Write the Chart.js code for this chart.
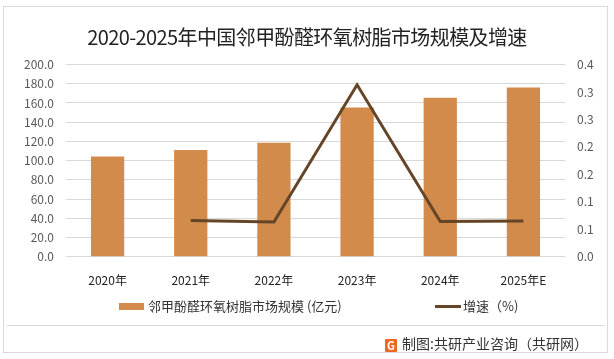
<!DOCTYPE html>
<html>
<head>
<meta charset="utf-8">
<script src="https://cdn.jsdelivr.net/npm/chart.js@4/dist/chart.umd.min.js"></script>
<style>
  html, body { margin:0; padding:0; background:#fff; }
  body { width:614px; height:359px; position:relative; overflow:hidden;
         font-family: "Microsoft YaHei", "Noto Sans CJK SC", sans-serif; }
  #wrap { position:absolute; left:0; top:0; width:614px; height:359px; }
  .frame { position:absolute; left:3px; top:6px; width:605px; height:347px; border:1px solid #d9d9d9; box-sizing:border-box; pointer-events:none; }
  .sep { position:absolute; left:7px; top:325px; width:598px; height:1px; background:#d9d9d9; }
  .title { position:absolute; left:0; width:614px; top:22px; text-align:center; font-size:20px; color:#222; white-space:nowrap; letter-spacing:-0.6px; }
  .leg { position:absolute; top:298px; font-size:13px; color:#333; white-space:nowrap; line-height:16px; }
  .sw { position:absolute; }
  .footer { position:absolute; left:385px; top:334px; font-size:14px; color:#333; white-space:nowrap; line-height:18px; }
  .logo { display:inline-block; width:12px; height:13px; background:#f26522; color:#fff; font-size:11px; font-weight:bold; line-height:13px; text-align:center; vertical-align:-1px; margin-right:5px; border-radius:1px; }
</style>
</head>
<body>
<div id="wrap"><canvas id="c" width="614" height="359"></canvas></div>
<div class="frame"></div>
<div class="sep"></div>
<div class="title">2020-2025年中国邻甲酚醛环氧树脂市场规模及增速</div>
<div class="sw" style="left:119px;top:303px;width:25px;height:7px;background:#D38B4C;"></div>
<div class="leg" style="left:148px;">邻甲酚醛环氧树脂市场规模 (亿元)</div>
<div class="sw" style="left:435px;top:305px;width:26px;height:3px;background:#654528;"></div>
<div class="leg" style="left:463px;">增速（%)</div>
<div class="footer"><span class="logo">G</span>制图:共研产业咨询（共研网）</div>
<script>
const categories = ['2020年', '2021年', '2022年', '2023年', '2024年', '2025年E'];
const marketSize = [104.2, 111.1, 118.5, 155.2, 165.3, 176.0];
const growthRate = [null, 0.066, 0.063, 0.313, 0.064, 0.065];
const leftTickLabels = ['0.0','20.0','40.0','60.0','80.0','100.0','120.0','140.0','160.0','180.0','200.0'];
const rightTickLabels = ['0.0','0.1','0.1','0.2','0.2','0.3','0.3','0.4'];
const barLabel = '邻甲酚醛环氧树脂市场规模 (亿元)';
const lineLabel = '增速（%)';

const tickFont = { family: '"Microsoft YaHei", "Noto Sans CJK SC", sans-serif', size: 12 };

new Chart(document.getElementById('c'), {
  data: {
    labels: categories,
    datasets: [
      { type: 'line', label: lineLabel, data: growthRate, yAxisID: 'y1',
        borderColor: '#654528', backgroundColor: '#654528', borderWidth: 3,
        pointRadius: 0, tension: 0, order: 0, spanGaps: false },
      { type: 'bar', label: barLabel, data: marketSize, yAxisID: 'y',
        backgroundColor: '#D38B4C', barPercentage: 0.4, categoryPercentage: 1.0, order: 1 }
    ]
  },
  options: {
    responsive: false,
    animation: false,
    devicePixelRatio: 1,
    layout: { padding: { top: 64.5, bottom: 72.3, left: 0, right: 0 } },
    plugins: { legend: { display: false }, title: { display: false }, tooltip: { enabled: false } },
    scales: {
      x: {
        grid: { display: false, drawTicks: false },
        border: { display: false },
        ticks: { color: '#222', font: tickFont, padding: 17, maxRotation: 0 },
        afterFit: s => { s.height = 30; }
      },
      y: {
        position: 'left', min: 0, max: 200,
        grid: { color: '#d9d9d9', drawTicks: false, lineWidth: 1 },
        border: { display: false },
        ticks: { stepSize: 20, color: '#595959', font: tickFont, padding: 12,
                 callback: (v, i) => leftTickLabels[i] },
        afterFit: s => { s.width = 66; }
      },
      y1: {
        position: 'right', min: 0, max: 0.35,
        grid: { display: false, drawTicks: false },
        border: { display: false },
        ticks: { stepSize: 0.05, color: '#595959', font: tickFont, padding: 12,
                 callback: (v, i) => rightTickLabels[i] },
        afterFit: s => { s.width = 49; }
      }
    }
  }
});
</script>
</body>
</html>
